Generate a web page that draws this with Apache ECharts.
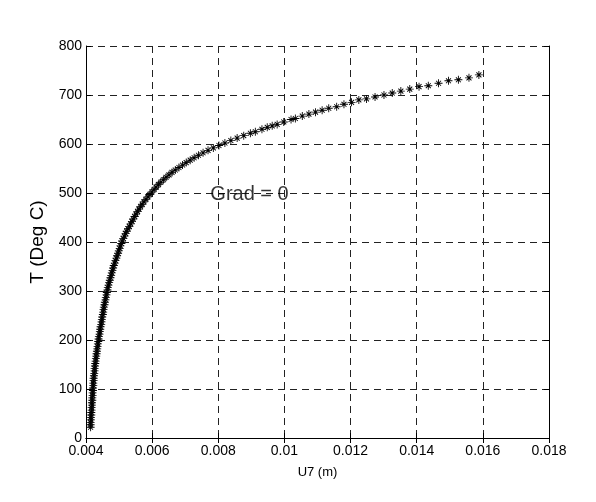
<!DOCTYPE html>
<html>
<head>
<meta charset="utf-8">
<script src="https://cdn.jsdelivr.net/npm/echarts@6/dist/echarts.min.js"></script>
<style>
  html, body { margin: 0; padding: 0; background: #fff; }
  #chart { width: 596px; height: 502px; }
</style>
</head>
<body>
<div id="chart"></div>
<script>
// lower, dense part of the curve
const uLow = [
  0.00414, 0.00414, 0.00414, 0.00415, 0.00415, 0.00416, 0.00416, 0.00417, 0.00417, 0.00418,
  0.00418, 0.00419, 0.00419, 0.00420, 0.00420, 0.00421, 0.00421, 0.00422, 0.00422, 0.00423,
  0.00423, 0.00424, 0.00425, 0.00426, 0.00426, 0.00427, 0.00428, 0.00429, 0.00430, 0.00431,
  0.00432, 0.00433, 0.00434, 0.00435, 0.00436, 0.00437, 0.00438, 0.00439, 0.00441, 0.00442,
  0.00443, 0.00444, 0.00446, 0.00447, 0.00448, 0.00449, 0.00451, 0.00452, 0.00453, 0.00454,
  0.00456, 0.00457, 0.00459, 0.00460, 0.00462, 0.00463, 0.00465, 0.00466, 0.00468, 0.00470,
  0.00472, 0.00474, 0.00476, 0.00478, 0.00480, 0.00482, 0.00484, 0.00487, 0.00489, 0.00492,
  0.00494, 0.00497, 0.00499, 0.00502, 0.00504, 0.00507, 0.00509, 0.00513, 0.00516, 0.00520,
  0.00523, 0.00527, 0.00531, 0.00535, 0.00539, 0.00543, 0.00547, 0.00551, 0.00556, 0.00560,
  0.00565, 0.00570, 0.00575, 0.00581, 0.00587, 0.00593, 0.00599, 0.00606, 0.00612, 0.00619,
  0.00626, 0.00634, 0.00642, 0.00651, 0.00660, 0.00670, 0.00681, 0.00692, 0.00703, 0.00715,
  0.00727, 0.00740, 0.00754, 0.00769, 0.00785, 0.00802, 0.00820, 0.00838, 0.00857, 0.00877
]
const tLow = [
  22, 27, 32, 37, 42, 47, 52, 57, 62, 67,
  72, 77, 82, 87, 92, 97, 102, 107, 112, 117,
  122, 127, 132, 137, 142, 147, 152, 157, 162, 167,
  172, 177, 182, 187, 192, 197, 202, 207, 212, 217,
  222, 227, 232, 237, 242, 247, 252, 257, 262, 267,
  272, 277, 282, 287, 292, 297, 302, 307, 312, 317,
  322, 327, 332, 337, 342, 347, 352, 357, 362, 367,
  372, 377, 382, 387, 392, 397, 402, 407, 412, 417,
  422, 427, 432, 437, 442, 447, 452, 457, 462, 467,
  472, 477, 482, 487, 492, 497, 502, 507, 512, 517,
  522, 527, 532, 537, 542, 547, 552, 557, 562, 567,
  572, 577, 582, 587, 592, 597, 602, 607, 612, 617
]
// upper part, where single stars can be told apart
const uHigh = [
  0.00897, 0.00912, 0.00932, 0.00948, 0.00963, 0.00978, 0.00998, 0.01020, 0.01033, 0.01054,
  0.01074, 0.01094, 0.01114, 0.01134, 0.01158, 0.01180, 0.01203, 0.01225, 0.01248, 0.01274,
  0.01301, 0.01326, 0.01352, 0.01379, 0.01407, 0.01435, 0.01466, 0.01496, 0.01526, 0.01558,
  0.01588
]
const tHigh = [
  622, 625, 630, 634, 637, 640, 645, 650, 652, 657,
  661, 665, 669, 673, 676, 681, 685, 690, 692, 696,
  700, 704, 708, 712, 717, 719, 724, 729, 731, 735,
  741
]
const annotation = { u: 0.00776, t: 496, text: 'Grad = 0' }

const xTicks = { min: 0.004, max: 0.018, step: 0.002 }
const yTicks = { min: 0, max: 800, step: 100 }

const points = uLow.map((u, i) => [u, tLow[i]])
  .concat(uHigh.map((u, i) => [u, tHigh[i]]))

const starPath = 'path://M4.45,0L5.55,0L5.55,10L4.45,10Z' +
  'M0,4.45L10,4.45L10,5.55L0,5.55Z' +
  'M1.5,2.3L2.3,1.5L8.5,7.7L7.7,8.5Z' +
  'M7.7,1.5L8.5,2.3L2.3,8.5L1.5,7.7Z'

const font = 'Liberation Sans, Arial, sans-serif'
const gridLine = { show: true, lineStyle: { color: '#222', width: 1, type: [7, 5] } }

const chart = echarts.init(document.getElementById('chart'))

function sideAxis (pos, isX) {
  return {
    type: 'value',
    position: pos,
    min: isX ? xTicks.min : yTicks.min,
    max: isX ? xTicks.max : yTicks.max,
    interval: isX ? xTicks.step : yTicks.step,
    axisLine: { show: true, lineStyle: { color: '#000', width: 1 } },
    axisTick: { show: true, inside: true, length: 5, lineStyle: { color: '#000' } },
    axisLabel: { show: false },
    splitLine: { show: false }
  }
}

chart.setOption({
  animation: false,
  backgroundColor: '#fff',
  grid: { left: 86, right: 47, top: 46, bottom: 64, containLabel: false },
  xAxis: [
    {
      type: 'value',
      min: xTicks.min,
      max: xTicks.max,
      interval: xTicks.step,
      name: 'U7 (m)',
      nameLocation: 'middle',
      nameGap: 28,
      nameTextStyle: { fontFamily: font, fontSize: 13, color: '#000' },
      axisLine: { show: true, onZero: false, lineStyle: { color: '#000', width: 1 } },
      axisTick: { show: true, inside: true, length: 5, lineStyle: { color: '#000' } },
      axisLabel: {
        fontFamily: font, fontSize: 14, color: '#000', margin: 6,
        formatter: v => String(+v.toFixed(3))
      },
      splitLine: gridLine
    },
    sideAxis('top', true)
  ],
  yAxis: [
    {
      type: 'value',
      min: yTicks.min,
      max: yTicks.max,
      interval: yTicks.step,
      name: 'T (Deg C)',
      nameLocation: 'middle',
      nameRotate: 90,
      nameGap: 34,
      nameTextStyle: { fontFamily: font, fontSize: 19, color: '#000' },
      axisLine: { show: true, onZero: false, lineStyle: { color: '#000', width: 1 } },
      axisTick: { show: true, inside: true, length: 5, lineStyle: { color: '#000' } },
      axisLabel: { fontFamily: font, fontSize: 14, color: '#000', margin: 4 },
      splitLine: gridLine
    },
    sideAxis('right', false)
  ],
  series: [
    {
      type: 'scatter',
      data: points,
      symbol: starPath,
      symbolSize: 8,
      itemStyle: { color: '#000', opacity: 1 },
      silent: true
    },
    {
      type: 'scatter',
      data: [[annotation.u, annotation.t]],
      symbolSize: 0,
      label: {
        show: true,
        position: 'right',
        distance: 0,
        formatter: annotation.text,
        fontFamily: font,
        fontSize: 20,
        color: '#000'
      },
      silent: true
    }
  ]
})
</script>
</body>
</html>
